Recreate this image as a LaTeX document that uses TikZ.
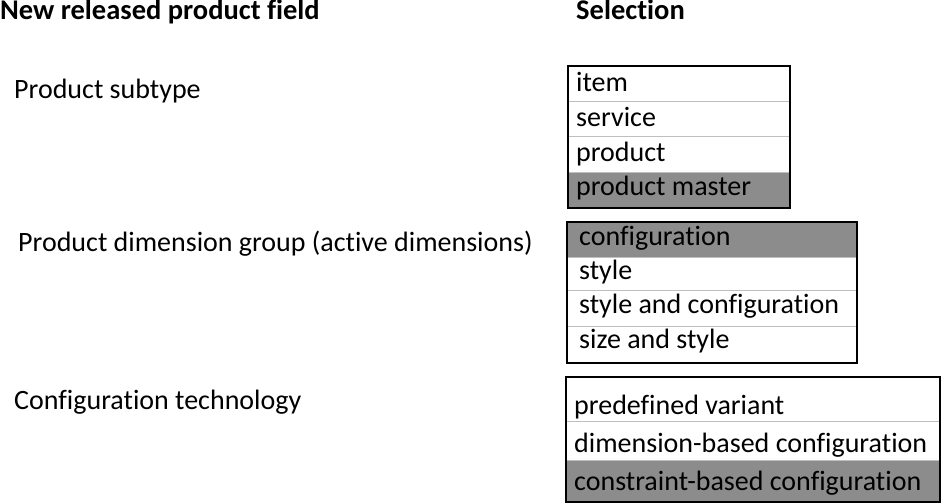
\documentclass[tikz,border=0pt]{standalone}
\usepackage{fontspec}
\setmainfont{Carlito}[Ligatures=NoCommon]
\begin{document}
\begin{tikzpicture}[x=1pt,y=-1pt,
  lbl/.style={anchor=base west,inner sep=0pt,font=\fontsize{28}{32}\selectfont},
  hdr/.style={anchor=base west,inner sep=0pt,font=\fontsize{28.5}{32}\selectfont\bfseries},
  cell/.style={anchor=base west,inner sep=0pt,font=\fontsize{28}{32}\selectfont},
  sel/.style={fill=black!45},
  div/.style={draw=black!25,line width=1pt},
  frame/.style={draw=black,line width=1.6pt}]
\useasboundingbox (0,0) rectangle (942,503);
% headers
\node[hdr] (h1) at (0,20) {New released product field};
\node[hdr] (h2) at (576,20) {Selection};
% labels
\node[lbl] (l1) at (14,99) {Product subtype};
\node[lbl] (l2) at (18,251) {Product dimension group (active dimensions)};
\node[lbl] (l3) at (14,409) {Configuration technology};
% box 1
\fill[sel] (568,172) rectangle (790,208);
\draw[div] (568,101) -- (790,101);
\draw[div] (568,136) -- (790,136);
\draw[div] (568,172) -- (790,172);
\draw[frame] (568,66) rectangle (790,208);
\node[cell] (a1) at (576,92) {item};
\node[cell] (a2) at (576,126) {service};
\node[cell] (a3) at (576,161) {product};
\node[cell] (a4) at (576,195) {product master};
% box 2
\fill[sel] (567,222) rectangle (857,257);
\draw[div] (567,257) -- (857,257);
\draw[div] (567,290) -- (857,290);
\draw[div] (567,326) -- (857,326);
\draw[frame] (567,222) rectangle (857,363);
\node[cell] (b1) at (579,245) {configuration};
\node[cell] (b2) at (579,279) {style};
\node[cell] (b3) at (579,313) {style and configuration};
\node[cell] (b4) at (579,348) {size and style};
% box 3
\fill[sel] (566,460) rectangle (940,502);
\draw[div] (566,421) -- (940,421);
\draw[div] (566,460) -- (940,460);
\draw[frame] (566,377) rectangle (940,502);
\node[cell] (c1) at (574,414) {predefined variant};
\node[cell] (c2) at (574,452) {dimension-based configuration};
\node[cell] (c3) at (574,490) {constraint-based configuration};
\end{tikzpicture}
\end{document}
